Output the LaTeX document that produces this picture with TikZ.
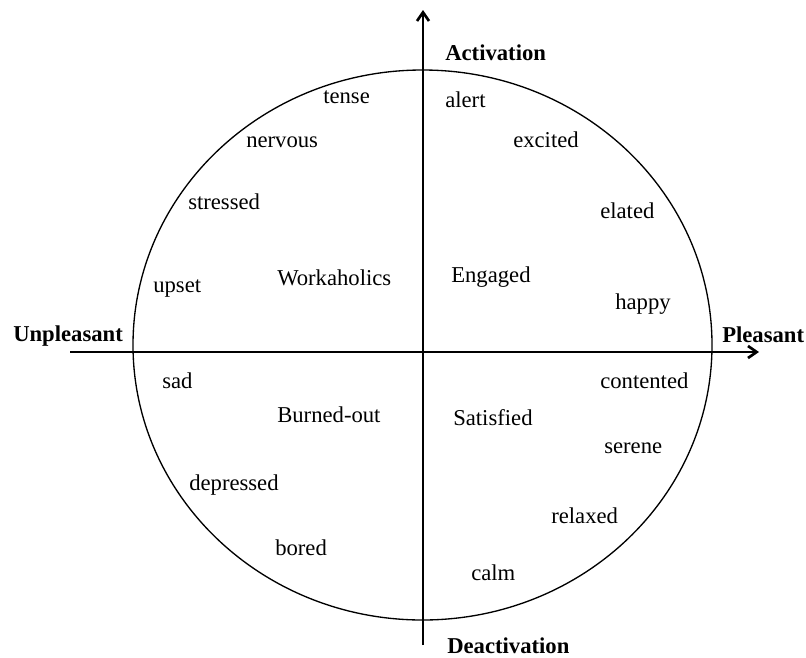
\documentclass[tikz,border=0pt]{standalone}
\usepackage{fontspec}
\setmainfont{Liberation Serif}
\usetikzlibrary{arrows.meta}
\begin{document}
\begin{tikzpicture}[x=0.75pt,y=-0.75pt,
  mood/.style={anchor=base west,inner sep=0pt,font=\fontsize{17}{20}\selectfont},
  axislabel/.style={mood,font=\fontsize{17}{20}\selectfont\bfseries},
  axisline/.style={line width=1.6pt,-{Straight Barb[length=6.5pt,width=9pt,line width=2pt]}}]
\useasboundingbox (0,0) rectangle (806,657);

% circumplex outline
\draw[line width=1pt] (422.5,345) ellipse [x radius=289.5, y radius=275];

% axis end points
\coordinate (south) at (423,645);
\coordinate (north) at (423,10);
\coordinate (west) at (70,352);
\coordinate (east) at (759,352);
\draw[axisline] (south) -- (north);
\draw[axisline] (west) -- (east);

% axis labels
\node[axislabel] (act) at (445,60) {Activation};
\node[axislabel] (deact) at (447,653) {Deactivation};
\node[axislabel] (unpl) at (13,341) {Unpleasant};
\node[axislabel] (pleas) at (722,342) {Pleasant};

% upper left quadrant
\node[mood] (tense) at (323,103) {tense};
\node[mood] (nervous) at (246,147) {nervous};
\node[mood] (stressed) at (188,209) {stressed};
\node[mood] (upset) at (153,292) {upset};
\node[mood] (work) at (277,285) {Workaholics};

% upper right quadrant
\node[mood] (alert) at (445,107) {alert};
\node[mood] (excited) at (513,147) {excited};
\node[mood] (elated) at (600,218) {elated};
\node[mood] (happy) at (615,309) {happy};
\node[mood] (engaged) at (451,282) {Engaged};

% lower left quadrant
\node[mood] (sad) at (162,388) {sad};
\node[mood] (burned) at (277,422) {Burned-out};
\node[mood] (depressed) at (189,490) {depressed};
\node[mood] (bored) at (275,555) {bored};

% lower right quadrant
\node[mood] (contented) at (600,388) {contented};
\node[mood] (satisfied) at (453,425) {Satisfied};
\node[mood] (serene) at (604,453) {serene};
\node[mood] (relaxed) at (551,523) {relaxed};
\node[mood] (calm) at (471,580) {calm};
\end{tikzpicture}
\end{document}
